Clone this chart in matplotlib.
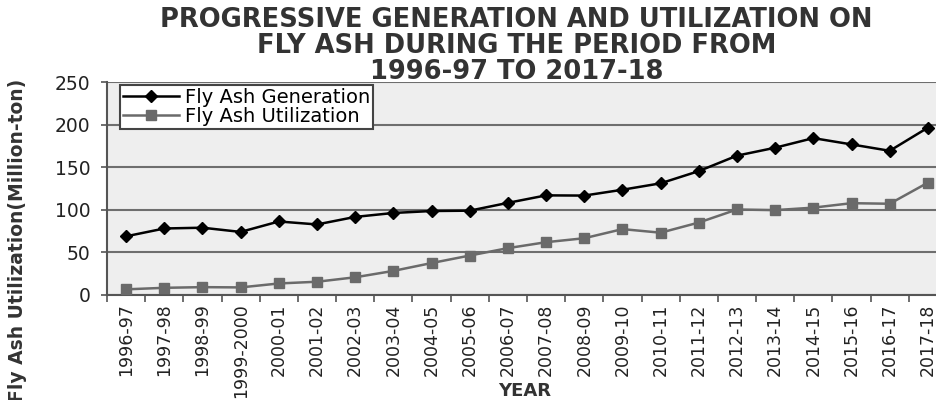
import numpy as np
import matplotlib.pyplot as plt
from matplotlib.ticker import FixedLocator

# Data
years = ['1996-97', '1997-98', '1998-99', '1999-2000', '2000-01', '2001-02',
         '2002-03', '2003-04', '2004-05', '2005-06', '2006-07', '2007-08',
         '2008-09', '2009-10', '2010-11', '2011-12', '2012-13', '2013-14',
         '2014-15', '2015-16', '2016-17', '2017-18']
generation = [68.88, 78.06, 78.99, 74.03, 86.29, 82.81, 91.65, 96.28, 98.57,
              98.97, 108.15, 116.94, 116.69, 123.54, 131.09, 145.42, 163.56,
              172.87, 184.14, 176.74, 169.25, 196.44]
utilization = [6.64, 8.43, 9.22, 8.91, 13.54, 15.57, 20.79, 28.29, 37.49,
               46.30, 55.01, 61.98, 66.64, 77.33, 73.13, 85.05, 100.37, 99.62,
               102.54, 107.77, 107.10, 131.87]
yticks = [0, 50, 100, 150, 200, 250]

x = np.arange(len(years))

fig = plt.figure(figsize=(9.37, 4), dpi=100)
ax = fig.add_axes([107/937, 105/400, 840/937, 213/400])
ax.set_facecolor('#eeeeee')

ax.plot(x, generation, color='black', marker='D', markersize=6, lw=1.8,
        label='Fly Ash Generation', zorder=3)
ax.plot(x, utilization, color='#6a6a6a', marker='s', markersize=7.5, lw=1.8,
        label='Fly Ash Utilization', zorder=3)

ax.set_xlim(-0.5, len(years) - 0.5)
ax.set_ylim(0, 250)
ax.set_yticks(yticks)
ax.set_yticklabels([str(v) for v in yticks], fontsize=13.5, color='#222222')
ax.set_xticks(x)
ax.set_xticklabels(years, rotation=90, fontsize=12.5, color='#222222')
ax.xaxis.set_minor_locator(FixedLocator(np.arange(-0.5, len(years), 1)))
ax.tick_params(axis='x', which='major', length=0, pad=6)
ax.tick_params(axis='x', which='minor', length=5, width=1.2, color='#555555')
ax.tick_params(axis='y', length=4, width=1.2, color='#555555', pad=8)

ax.grid(True, axis='y', color='#6e6e6e', lw=1.5, zorder=1)
ax.set_axisbelow(True)
for s in ['top', 'right']:
    ax.spines[s].set_visible(False)
for s in ['left', 'bottom']:
    ax.spines[s].set_color('#555555')
    ax.spines[s].set_linewidth(1.5)

fig.text(0.56, 0.022, 'YEAR', fontsize=13, fontweight='bold', color='#333333',
         ha='center', va='center')
fig.text(0.019, 0.40, 'Fly Ash Utilization(Million-ton)', rotation=90,
         fontsize=13.5, fontweight='bold', color='#333333', ha='center', va='center')

fig.text(0.551, 0.885, 'PROGRESSIVE GENERATION AND UTILIZATION ON\nFLY ASH DURING THE PERIOD FROM\n1996-97 TO 2017-18',
         fontsize=18.5, fontweight='bold', color='#333333', ha='center', va='center',
         linespacing=0.98)

leg = ax.legend(loc='upper left', bbox_to_anchor=(0.012, 1.0), fontsize=14,
                frameon=True, fancybox=False, borderpad=0.15, labelspacing=0.0,
                handlelength=2.9, handletextpad=0.3, borderaxespad=0.15)
leg.get_frame().set_edgecolor('#444444')
leg.get_frame().set_linewidth(1.5)
leg.get_frame().set_facecolor('white')
leg.get_frame().set_alpha(1)

plt.savefig('out.png', dpi=100)
